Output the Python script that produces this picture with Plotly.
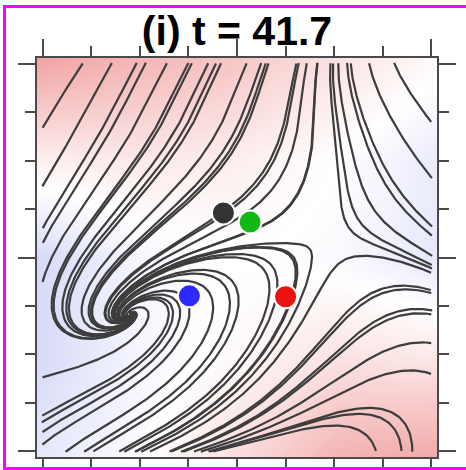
import numpy as np
import plotly.graph_objects as go

# ---------------- data ----------------
TITLE = "(i) t = 41.7"
AX_LIM = 4.115
FIELD_LIM = 4.0
MAJOR_TICKS = [-4, 0, 4]
MINOR_TICKS = [-3, -2, -1, 1, 2, 3]

# equilibria of the flow field (data units)
FOCUS_XY = [-2.22, -1.18]
SADDLE_XY = [1.75, 0.30]
FOCUS_DECAY = 0.7
FOCUS_TURN = 1.0
FOCUS_STRETCH = 2.0
FOCUS_TILT = 30.0
SADDLE_OUT_DIR = [1.0, -0.08]
SADDLE_IN_DIR = [0.22, 1.0]
SADDLE_OUT_RATE = 1.0
SADDLE_IN_RATE = -1.5

# flow directions
FLOW_X = [-3.80, -3.24, -2.50, -1.18, 0.50, 1.76, 2.31, 3.34,
          3.86, 3.96, 3.96, 3.75, 2.05, 3.00,
          1.16, 0.00, -1.80, -2.00, -3.65, -3.65, -1.00, 0.00, 0.70, 1.00,
          -3.96, -3.90, -4.00, -0.77, -2.83, -0.30,
          2.10, 3.00, 3.96, 2.90,
          1.90, 2.60, 3.50, 3.30, 3.96, 3.34, -3.96,
          -3.00, -2.00, -3.60,
          -3.70, -3.70, -3.20]
FLOW_Y = [3.80, 3.24, 3.90, 3.45, 3.45, 3.45, 3.24, 3.45,
          1.60, 0.15, -1.29, -3.34, -1.94, -0.80,
          -3.30, -3.90, -3.34, -3.90, -3.55, -2.52, -2.10, -2.31, -1.70, -0.50,
          0.77, -0.60, -1.50, 1.80, 2.20, 0.05,
          -3.96, -3.90, -3.90, -2.50,
          -3.70, -3.40, -3.60, -2.60, -2.60, -2.94, 2.00,
          1.60, 2.60, 2.80,
          0.40, 1.30, 1.00]
FLOW_U = [-0.52, -0.52, -0.50, -0.47, -0.20, 0.00, 0.10, 0.60,
          0.84, 0.90, 0.80, 0.45, 1.00, 0.95,
          1.00, 0.90, 0.90, 0.90, 0.95, 0.97, 0.87, 0.80, 0.60, 0.10,
          -0.53, -0.30, 0.10, -0.75, -0.60, -1.00,
          0.60, 0.45, 0.30, 0.80,
          0.80, 0.70, 0.45, 0.70, 0.60, 0.60, -0.53,
          -0.55, -0.55, -0.52,
          -0.50, -0.53, -0.55]
FLOW_V = [-0.85, -0.85, -0.87, -0.88, -0.98, -1.00, -1.00, -0.80,
          -0.55, -0.40, -0.60, -0.90, 0.00, -0.10,
          0.00, 0.40, 0.42, 0.42, 0.30, 0.20, 0.50, 0.60, 0.80, 1.00,
          -0.85, -0.95, -1.00, -0.65, -0.80, -0.10,
          -0.80, -0.90, -0.95, -0.60,
          -0.60, -0.70, -0.90, -0.70, -0.80, -0.80, -0.85,
          -0.83, -0.83, -0.85,
          -0.87, -0.85, -0.83]
FLOW_WEIGHT = [2.0, 2.0, 2.0, 1.5, 1, 1, 1, 1,
               1, 1, 1, 1, 1, 1,
               1, 1, 1, 1, 1, 1, 1, 1, 1, 1,
               2.0, 1, 1, 1, 1.5, 1,
               1, 1, 1, 1,
               1, 1, 1, 1, 1, 1, 2.0,
               2.0, 2.0, 2.0,
               2.0, 2.0, 2.0]
FLOW_SPEED = 3.0

# streamline seeds
SEED_X = [-3.5, -2.33, -1.17, 0.0, 1.17, 2.33, 3.5]
SEED_Y = [-3.5, -2.33, -1.17, 0.0, 1.17, 2.33, 3.5]

# background scalar field (rows bottom -> top)
BG_X = [-4.115, -2.06, 0.0, 2.06, 4.115]
BG_Y = [-4.115, -2.06, 0.0, 2.06, 4.115]
BG_Z = [
    [-0.25, -0.05, 0.30, 0.65, 0.75],
    [-0.40, -0.10, 0.05, 0.25, 0.20],
    [-0.40, -0.10, 0.00, -0.05, -0.25],
    [0.15, 0.20, 0.15, 0.00, -0.20],
    [0.80, 0.65, 0.50, 0.25, 0.05],
]

# particles
DOT_X = [-0.28, 0.27, -0.98, 1.00]
DOT_Y = [0.92, 0.73, -0.79, -0.81]
DOT_COLORS = ["#333333", "#14b814", "#2b2bff", "#ee1111"]


# ---------------- vector field fit (polynomial, degree 4) ----------------
SC = 4.0
EXPS = [(i, d - i) for d in range(5) for i in range(d, -1, -1)]


def _pw(a, k):
    return a ** k if k > 0 else np.ones_like(a)


def mono(x, y):
    x = np.asarray(x, float) / SC; y = np.asarray(y, float) / SC
    return np.array([_pw(x, i) * _pw(y, j) for i, j in EXPS])


def mono_dx(x, y):
    x = np.asarray(x, float) / SC; y = np.asarray(y, float) / SC
    return np.array([(i * _pw(x, i - 1) * _pw(y, j) if i > 0 else np.zeros_like(x)) / SC for i, j in EXPS])


def mono_dy(x, y):
    x = np.asarray(x, float) / SC; y = np.asarray(y, float) / SC
    return np.array([(j * _pw(x, i) * _pw(y, j - 1) if j > 0 else np.zeros_like(x)) / SC for i, j in EXPS])


th = np.radians(FOCUS_TILT)
Rm = np.array([[np.cos(th), -np.sin(th)], [np.sin(th), np.cos(th)]])
P = Rm @ np.diag([FOCUS_STRETCH, 1.0])
JF = P @ np.array([[-FOCUS_DECAY, -FOCUS_TURN], [FOCUS_TURN, -FOCUS_DECAY]]) @ np.linalg.inv(P)
V = np.column_stack([SADDLE_OUT_DIR, SADDLE_IN_DIR])
JS = V @ np.diag([SADDLE_OUT_RATE, SADDLE_IN_RATE]) @ np.linalg.inv(V)

W = 40.0
RIDGE = 0.1
NT = len(EXPS)
coefs = []
for comp in range(2):
    rows, rhs = [], []
    for pt, J in ((FOCUS_XY, JF), (SADDLE_XY, JS)):
        rows.append(W * mono(*pt)); rhs.append(0.0)
        rows.append(W * mono_dx(*pt)); rhs.append(W * J[comp, 0])
        rows.append(W * mono_dy(*pt)); rhs.append(W * J[comp, 1])
    tgt = FLOW_U if comp == 0 else FLOW_V
    for fx, fy, t, w in zip(FLOW_X, FLOW_Y, tgt, FLOW_WEIGHT):
        rows.append(w * mono(fx, fy)); rhs.append(w * FLOW_SPEED * t)
    for k, (i, j) in enumerate(EXPS):
        if i + j >= 2:
            e = np.zeros(NT); e[k] = RIDGE * (i + j - 1)
            rows.append(e); rhs.append(0.0)
    c, *_ = np.linalg.lstsq(np.array(rows), np.array(rhs), rcond=None)
    coefs.append(c)
CU, CV = coefs


def vel(x, y):
    m = mono(x, y)
    return np.tensordot(CU, m, 1), np.tensordot(CV, m, 1)


def trace(seeds, sgn, h=0.02, nmax=1600):
    N = len(seeds)
    out = np.full((nmax + 1, N, 2), np.nan)
    out[0] = seeds
    pos = seeds.copy()
    alive = np.ones(N, bool)
    fx, fy = FOCUS_XY

    def d(q):
        u, v = vel(q[:, 0], q[:, 1])
        n = np.hypot(u, v) + 1e-12
        return sgn * np.stack([u / n, v / n], 1)

    for k in range(nmax):
        idx = np.where(alive)[0]
        if len(idx) == 0:
            break
        p = pos[idx]
        k1 = d(p); k2 = d(p + h / 2 * k1); k3 = d(p + h / 2 * k2); k4 = d(p + h * k3)
        pn = p + h / 6 * (k1 + 2 * k2 + 2 * k3 + k4)
        u, v = vel(pn[:, 0], pn[:, 1])
        sp = np.hypot(u, v)
        pos[idx] = pn
        out[k + 1, idx] = pn
        stop = (np.abs(pn) > FIELD_LIM).any(1) | (sp < 0.005) | (np.hypot(pn[:, 0] - fx, pn[:, 1] - fy) < 0.03)
        alive[idx[stop]] = False
    return out


sx, sy = np.meshgrid(SEED_X, SEED_Y)
seeds = np.column_stack([sx.ravel(), sy.ravel()])
fw = trace(seeds, 1.0)
bw = trace(seeds, -1.0)

LX, LY = [], []
for i in range(len(seeds)):
    b = bw[:, i][~np.isnan(bw[:, i, 0])][::-1]
    f = fw[:, i][~np.isnan(fw[:, i, 0])][1:]
    line = np.vstack([b, f])
    line = line[np.abs(line).max(1) <= FIELD_LIM + 0.02]
    line = line[::2]
    LX.extend(line[:, 0].tolist() + [None])
    LY.extend(line[:, 1].tolist() + [None])

# ---------------- figure ----------------
fig = go.Figure()
fig.add_trace(go.Heatmap(
    x=BG_X, y=BG_Y, z=BG_Z, zsmooth="best", zmin=-1, zmax=1, showscale=False,
    colorscale=[[0, "#9aa0ee"], [0.5, "#ffffff"], [1, "#ee8c8c"]], hoverinfo="skip"))
fig.add_trace(go.Scatter(x=LX, y=LY, mode="lines", line=dict(color="#3d3d3d", width=2.2),
                         hoverinfo="skip", showlegend=False))
fig.add_trace(go.Scatter(x=DOT_X, y=DOT_Y, mode="markers",
                         marker=dict(size=23, color=DOT_COLORS, line=dict(color="white", width=2)),
                         showlegend=False))

axis = dict(range=[-AX_LIM, AX_LIM], showgrid=False, zeroline=False, showline=True, automargin=False,
            linecolor="#4a4a4a", linewidth=2, mirror="allticks", ticks="outside",
            tickmode="array", tickvals=MAJOR_TICKS, ticklen=17, tickwidth=2, tickcolor="#4a4a4a",
            showticklabels=False,
            minor=dict(tickmode="array", tickvals=MINOR_TICKS, ticks="outside", ticklen=10,
                       tickwidth=2, tickcolor="#4a4a4a", showgrid=False))


def px2paper_x(px):
    return (px - 37) / 400


def px2paper_y(py):
    return (457 - py) / 399


MAG = dict(color="#ff00ff", width=3)
fig.update_layout(
    width=466, height=470, margin=dict(l=37, r=29, t=58, b=13),
    paper_bgcolor="white", plot_bgcolor="white",
    xaxis=axis, yaxis=axis, showlegend=False,
    title=dict(text="<b>" + TITLE + "</b>", x=0.5, xref="paper", xanchor="center",
               y=1 - 31 / 470, yanchor="middle",
               font=dict(family="Liberation Sans, Arial, sans-serif", size=41, color="black")),
    shapes=[
        dict(type="line", xref="paper", yref="paper", x0=px2paper_x(4.5), x1=px2paper_x(4.5),
             y0=px2paper_y(6.5), y1=px2paper_y(468.5), line=MAG, layer="above"),
        dict(type="line", xref="paper", yref="paper", x0=px2paper_x(3), x1=px2paper_x(470),
             y0=px2paper_y(6.5), y1=px2paper_y(6.5), line=MAG, layer="above"),
        dict(type="line", xref="paper", yref="paper", x0=px2paper_x(3), x1=px2paper_x(470),
             y0=px2paper_y(468.5), y1=px2paper_y(468.5), line=MAG, layer="above"),
    ],
)
fig.write_html("out.html")
